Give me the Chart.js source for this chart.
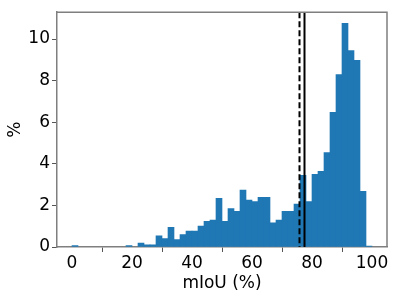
<!DOCTYPE html>
<html>
<head>
<meta charset="utf-8">
<script src="https://cdn.jsdelivr.net/npm/chart.js@4/dist/chart.umd.min.js"></script>
<style>
  html, body { margin: 0; padding: 0; background: #fff; }
  #wrap { width: 399px; height: 299px; }
</style>
</head>
<body>
<div id="wrap"><canvas id="histChart" width="399" height="299"></canvas></div>
<script>
// histogram of per-image mIoU, bins of width 2 from 0 to 100
const binWidth = 2;
const percentValues = [
    0.07, 0, 0, 0, 0, 0, 0, 0, 0, 0.07,
    0, 0.19, 0.11, 0.11, 0.54, 0.40, 0.95, 0.36, 0.60, 0.76,
    0.76, 1.01, 1.23, 1.30, 2.34, 1.23, 1.85, 1.71, 2.74, 2.26,
    2.18, 2.39, 2.39, 1.16, 1.30, 1.71, 1.71, 2.06, 3.45, 2.18,
    3.50, 3.64, 4.54, 6.47, 8.29, 10.76, 9.45, 8.97, 2.68, 0.05
];
const xTicks = [0, 20, 40, 60, 80, 100];
const yTicks = [0, 2, 4, 6, 8, 10];
const meanLine = 75.6;   // dashed
const medianLine = 77.2; // solid

const FONT = 'DejaVu Sans';

document.addEventListener('DOMContentLoaded', function() {
    const ctx = document.getElementById('histChart').getContext('2d');

    // empty bins left out so nothing is painted on the baseline
    const points = percentValues
        .map((v, i) => ({ x: i * binWidth + binWidth / 2, y: v }))
        .filter(p => p.y > 0);

    // draws the two vertical reference lines across the whole plot area
    const refLines = {
        id: 'refLines',
        afterDatasetsDraw(chart) {
            const c = chart.ctx;
            const area = chart.chartArea;
            const xs = chart.scales.x;
            c.save();
            c.strokeStyle = '#000';
            c.lineWidth = 2;
            [[meanLine, [6, 3]], [medianLine, []]].forEach(([val, dash]) => {
                const px = Math.round(xs.getPixelForValue(val)) + 0.5;
                c.setLineDash(dash);
                c.beginPath();
                c.moveTo(px, area.top);
                c.lineTo(px, area.bottom);
                c.stroke();
            });
            c.restore();
        }
    };

    new Chart(ctx, {
        type: 'bar',
        data: {
            datasets: [{
                label: 'mIoU',
                data: points,
                backgroundColor: '#1f77b4',
                borderWidth: 0,
                barThickness: 6,
                barPercentage: 1.0,
                categoryPercentage: 1.0
            }]
        },
        options: {
            responsive: false,
            animation: false,
            layout: { padding: { top: 9, right: 12, left: 0, bottom: 5 } },
            plugins: {
                legend: { display: false },
                tooltip: { enabled: false }
            },
            scales: {
                x: {
                    type: 'linear',
                    min: -5,
                    max: 105,
                    offset: false,
                    afterBuildTicks: (axis) => { axis.ticks = xTicks.map(v => ({ value: v })); },
                    afterFit: (axis) => { axis.height = 47; },
                    grid: {
                        drawOnChartArea: false,
                        drawTicks: true,
                        tickLength: 5,
                        tickColor: '#555'
                    },
                    border: { display: true, color: '#7f7f7f', width: 1.5 },
                    ticks: {
                        color: '#000',
                        padding: 1,
                        maxRotation: 0,
                        font: { family: FONT, size: 17 }
                    },
                    title: {
                        display: true,
                        text: 'mIoU (%)',
                        color: '#000',
                        padding: { top: 2, bottom: 0 },
                        font: { family: FONT, size: 17 }
                    }
                },
                y: {
                    min: 0,
                    max: 11.29,
                    afterBuildTicks: (axis) => { axis.ticks = yTicks.map(v => ({ value: v })); },
                    afterFit: (axis) => { axis.width = 57; },
                    grid: {
                        drawOnChartArea: false,
                        drawTicks: true,
                        tickLength: 5,
                        tickColor: '#555'
                    },
                    border: { display: true, color: '#7f7f7f', width: 1.5 },
                    ticks: {
                        color: '#000',
                        padding: 2,
                        font: { family: FONT, size: 17 }
                    },
                    title: {
                        display: true,
                        text: '%',
                        color: '#000',
                        padding: { top: 5, bottom: 0 },
                        font: { family: FONT, size: 17 }
                    }
                }
            }
        },
        plugins: [refLines, {
            // close the box on top and right like the reference axes
            id: 'frame',
            afterDraw(chart) {
                const c = chart.ctx;
                const a = chart.chartArea;
                c.save();
                c.strokeStyle = '#7f7f7f';
                c.lineWidth = 1.5;
                c.beginPath();
                c.moveTo(a.left, a.top);
                c.lineTo(a.right, a.top);
                c.lineTo(a.right, a.bottom);
                c.stroke();
                c.restore();
            }
        }]
    });
});
</script>
</body>
</html>
